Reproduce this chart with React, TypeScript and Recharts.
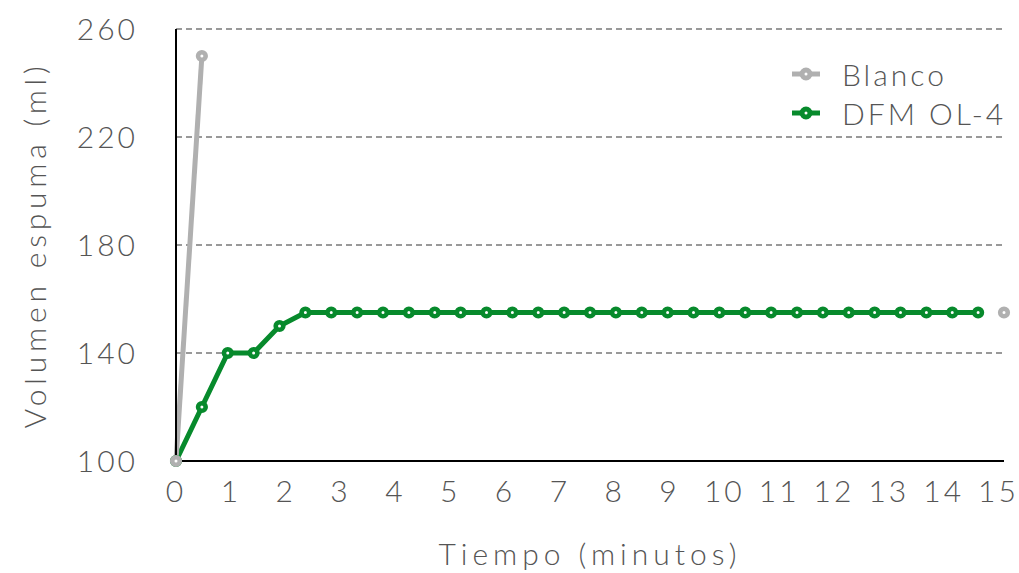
import React from "react";
import { LineChart, Line, XAxis, YAxis, CartesianGrid, Legend } from "recharts";

const minutes = [0, 0.5, 1, 1.5, 2, 2.5, 3, 3.5, 4, 4.5, 5, 5.5, 6, 6.5, 7, 7.5, 8, 8.5, 9, 9.5, 10, 10.5, 11, 11.5, 12, 12.5, 13, 13.5, 14, 14.5, 15, 15.5, 16];
const blanco = [100, 250, null, null, null, null, null, null, null, null, null, null, null, null, null, null, null, null, null, null, null, null, null, null, null, null, null, null, null, null, null, null, 155];
const dfm = [100, 120, 140, 140, 150, 155, 155, 155, 155, 155, 155, 155, 155, 155, 155, 155, 155, 155, 155, 155, 155, 155, 155, 155, 155, 155, 155, 155, 155, 155, 155, 155, null];
const xTickLabels = [0, 1, 2, 3, 4, 5, 6, 7, 8, 9, 10, 11, 12, 13, 14, 15];
const yTicks = [100, 140, 180, 220, 260];

const seriesNames = ["Blanco", "DFM OL-4"];
const GRAY = "#b0b0b0";
const GREEN = "#078a2c";
const TEXT = "#555555";
const FONT = "Lato, 'Open Sans', sans-serif";

const data = minutes.map((m, i) => ({ m, blanco: blanco[i], dfm: dfm[i] }));

const tickStyle = { fill: TEXT, fontSize: 30, fontFamily: FONT, fontWeight: 300, letterSpacing: 3 };

const renderLegend = () => {
  const items = [
    { name: seriesNames[0], color: GRAY },
    { name: seriesNames[1], color: GREEN },
  ];
  return (
    <div style={{ fontFamily: FONT, fontWeight: 300 }}>
      {items.map((it) => (
        <div key={it.name} style={{ display: "flex", alignItems: "center", height: 39 }}>
          <svg width={32} height={20} style={{ marginRight: 20 }}>
            <line x1={2} y1={10} x2={30} y2={10} stroke={it.color} strokeWidth={5} />
            <circle cx={16} cy={10} r={4} fill="#fff" stroke={it.color} strokeWidth={5} />
          </svg>
          <span style={{ fontSize: 30, color: TEXT, letterSpacing: 3 }}>{it.name}</span>
        </div>
      ))}
    </div>
  );
};

export default function App() {
  return (
    <div style={{ position: "absolute", left: 0, top: 0, background: "#fff" }}>
      <LineChart width={1019} height={573} data={data} margin={{ top: 29, right: 15, bottom: 0, left: 0 }}>
        <CartesianGrid vertical={false} stroke="#999" strokeDasharray="6 4" strokeWidth={2} />
        <XAxis xAxisId="data" dataKey="m" type="number" domain={[0, 16]} hide height={0} />
        <XAxis
          xAxisId="labels"
          dataKey="m"
          type="number"
          domain={[0, 15.1]}
          ticks={xTickLabels}
          allowDataOverflow
          height={112}
          axisLine={{ stroke: "#000", strokeWidth: 2 }}
          tickLine={false}
          tickSize={0}
          tickMargin={20}
          tick={tickStyle}
          label={{ value: "Tiempo (minutos)", position: "insideBottom", offset: 8, ...tickStyle, letterSpacing: 5 }}
        />
        <YAxis
          type="number"
          domain={[100, 260]}
          ticks={yTicks}
          width={176}
          axisLine={{ stroke: "#000", strokeWidth: 2 }}
          tickLine={false}
          tickSize={0}
          tickMargin={38}
          tick={tickStyle}
          label={{ value: "Volumen espuma (ml)", angle: -90, position: "center", dx: -53, ...tickStyle, letterSpacing: 4.8 }}
        />
        <Legend layout="horizontal" verticalAlign="middle" align="center" content={renderLegend} wrapperStyle={{ top: 54, left: 790, width: 225 }} />
        <Line xAxisId="data" dataKey="dfm" name={seriesNames[1]} stroke={GREEN} strokeWidth={5} dot={{ r: 3.8, fill: "#fff", stroke: GREEN, strokeWidth: 4.6 }} isAnimationActive={false} connectNulls={false} />
        <Line xAxisId="data" dataKey="blanco" name={seriesNames[0]} stroke={GRAY} strokeWidth={5} dot={{ r: 3.8, fill: "#fff", stroke: GRAY, strokeWidth: 4.6 }} isAnimationActive={false} connectNulls={false} />
      </LineChart>
    </div>
  );
}
